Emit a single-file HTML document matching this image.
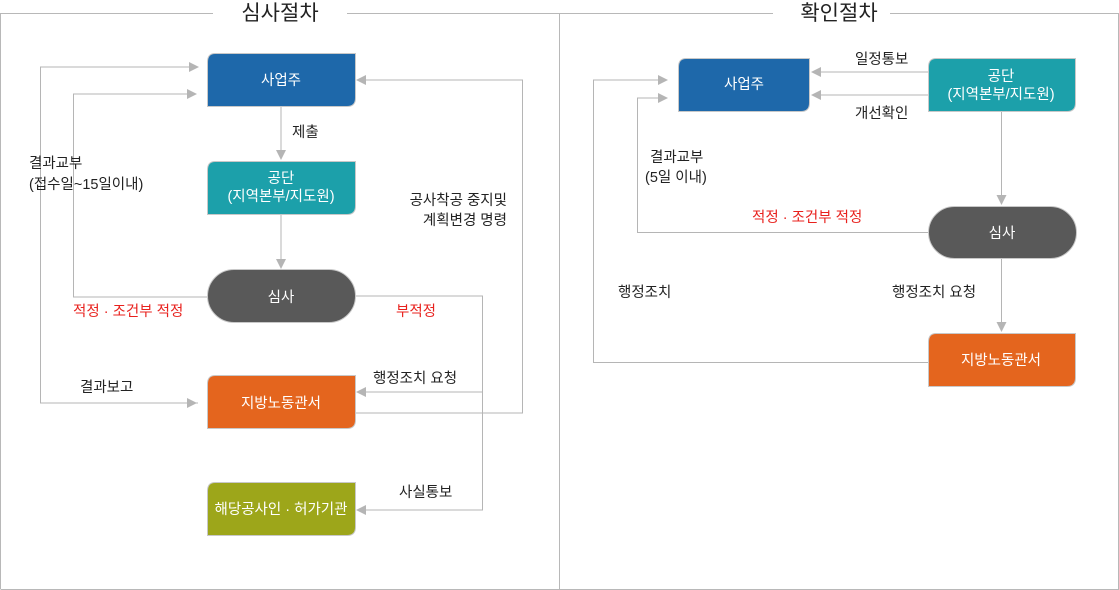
<!DOCTYPE html>
<html><head><meta charset="utf-8"><style>
html,body{margin:0;padding:0;background:#fff;}
svg{display:block;}
text{font-family:"Liberation Sans","Noto Sans CJK KR",sans-serif;}
</style></head><body>
<svg width="1119" height="590" viewBox="0 0 1119 590" xmlns="http://www.w3.org/2000/svg">
<defs>
<marker id="a" markerWidth="10" markerHeight="10" refX="9" refY="5" orient="auto" markerUnits="userSpaceOnUse"><path d="M0,0 L10,5 L0,10 z" fill="#b5b5b5"/></marker>
</defs>
<g fill="none" stroke="#b8b8b8" stroke-width="1">
<path d="M0.5,589 V13.5 H213 M347,13.5 H559.5 V589"/>
<path d="M559.5,13.5 H773 M890,13.5 H1118.5 V589.5 H0.5"/>
<path d="M559.5,589.5 V13"/>
</g>
<text x="280" y="20" font-size="21" text-anchor="middle" fill="#222">심사절차</text>
<text x="839" y="20" font-size="21" text-anchor="middle" fill="#222">확인절차</text>

<g fill="none" stroke="#b5b5b5" stroke-width="1">
<path d="M281,106 V159" marker-end="url(#a)"/>
<path d="M281,214 V268" marker-end="url(#a)"/>
<path d="M198,403 H40.5 V67 H198" marker-end="url(#a)"/>
<path d="M40.5,403 H196" marker-end="url(#a)"/>
<path d="M207,297 H73.5 V94 H196" marker-end="url(#a)"/>
<path d="M355,296 H482.5 V510 H357" marker-end="url(#a)"/>
<path d="M482.5,392 H357" marker-end="url(#a)"/>
<path d="M355,413 H522.5 V80 H357" marker-end="url(#a)"/>
<path d="M928,72 H812" marker-end="url(#a)"/>
<path d="M928,95 H812" marker-end="url(#a)"/>
<path d="M1001.5,111 V204" marker-end="url(#a)"/>
<path d="M1001.5,259 V331" marker-end="url(#a)"/>
<path d="M928,232.5 H637.5 V98 H667" marker-end="url(#a)"/>
<path d="M928,362.5 H593.5 V80 H667" marker-end="url(#a)"/>
</g>

<g stroke="#c8c8c8" stroke-width="1">
<path d="M215,53.5 H355.5 V98 Q355.5,106.5 347,106.5 H207.5 V62 Q207.5,53.5 215,53.5 z" fill="#1e68aa"/>
<path d="M215,161.5 H355.5 V206 Q355.5,214.5 347,214.5 H207.5 V170 Q207.5,161.5 215,161.5 z" fill="#1ca0aa"/>
<rect x="207.5" y="269.5" width="148" height="53" rx="26.5" fill="#595959"/>
<path d="M215,375.5 H355.5 V420 Q355.5,428.5 347,428.5 H207.5 V384 Q207.5,375.5 215,375.5 z" fill="#e4651e"/>
<path d="M215,482.5 H355.5 V527 Q355.5,535.5 347,535.5 H207.5 V491 Q207.5,482.5 215,482.5 z" fill="#9da61a"/>

<path d="M686,58.5 H809.5 V103 Q809.5,111.5 801,111.5 H678.5 V67 Q678.5,58.5 686,58.5 z" fill="#1e68aa"/>
<path d="M936,58.5 H1075.5 V103 Q1075.5,111.5 1067,111.5 H928.5 V67 Q928.5,58.5 936,58.5 z" fill="#1ca0aa"/>
<rect x="928.5" y="206.5" width="148" height="52" rx="26" fill="#595959"/>
<path d="M936,333.5 H1075.5 V378 Q1075.5,386.5 1067,386.5 H928.5 V342 Q928.5,333.5 936,333.5 z" fill="#e4651e"/>
</g>

<g fill="#fff" font-size="14.5" text-anchor="middle">
<text x="281" y="85">사업주</text>
<text x="281" y="183">공단</text>
<text x="281" y="201">(지역본부/지도원)</text>
<text x="281" y="302">심사</text>
<text x="281" y="408">지방노동관서</text>
<text x="281" y="514">해당공사인 · 허가기관</text>
<text x="744" y="89">사업주</text>
<text x="1001" y="81">공단</text>
<text x="1001" y="99">(지역본부/지도원)</text>
<text x="1002" y="238">심사</text>
<text x="1001" y="365">지방노동관서</text>
</g>

<g fill="#222" font-size="14.5">
<text x="292" y="137">제출</text>
<text x="29" y="168">결과교부</text>
<text x="29" y="189">(접수일~15일이내)</text>
<text x="507" y="205" text-anchor="end">공사착공 중지및</text>
<text x="507" y="225" text-anchor="end">계획변경 명령</text>
<text x="80" y="392">결과보고</text>
<text x="373" y="383">행정조치 요청</text>
<text x="399" y="497">사실통보</text>
<text x="855" y="64">일정통보</text>
<text x="855" y="118">개선확인</text>
<text x="650" y="162">결과교부</text>
<text x="645" y="182">(5일 이내)</text>
<text x="618" y="297">행정조치</text>
<text x="892" y="297">행정조치 요청</text>
</g>
<g fill="#e8211d" font-size="14.5">
<text x="73" y="316">적정 · 조건부 적정</text>
<text x="396" y="316">부적정</text>
<text x="752" y="222">적정 · 조건부 적정</text>
</g>
</svg>
</body></html>
